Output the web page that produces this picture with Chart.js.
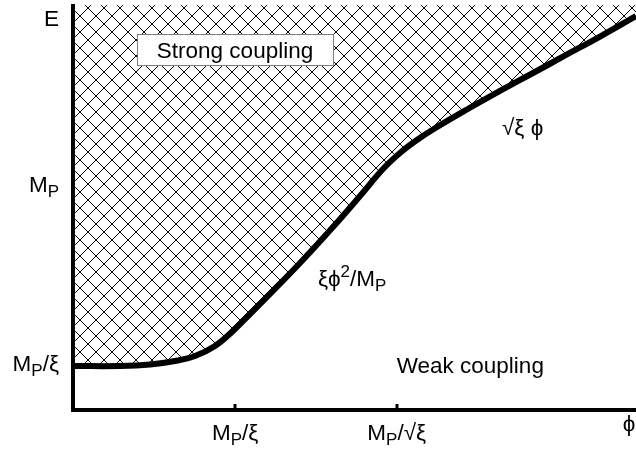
<!DOCTYPE html>
<html>
<head>
<meta charset="utf-8">
<script src="https://cdn.jsdelivr.net/npm/chart.js@4"></script>
<style>
  html, body { margin: 0; padding: 0; background: #fff; }
</style>
</head>
<body>
<canvas id="grafico" width="636" height="450"></canvas>
<script>
// Curva de frontera entre acoplamiento fuerte y débil (unidades arbitrarias 0-100)
const phiValues = [0, 8.35, 13.68, 18.12, 21.67, 25.22, 28.42, 31.44, 34.46, 40.32, 46.18, 50.98, 55.06, 58.08, 61.10, 63.94, 69.98, 75.84, 81.71, 87.74, 93.61, 100];
const energyValues = [10.86, 10.86, 11.23, 12.10, 13.33, 15.80, 19.51, 23.70, 27.90, 36.30, 45.19, 52.84, 59.51, 63.46, 66.67, 69.26, 74.20, 78.77, 83.21, 87.78, 92.22, 97.28];

// Marcas de los ejes ( _{..} = subíndice, ^{..} = superíndice )
const xTickValues = [28.8, 57.5];
const xTickLabels = ['M_{P}/ξ', 'M_{P}/√ξ'];
const yTickValues = [10.9, 55.1, 96.0];
const yTickLabels = ['M_{P}/ξ', 'M_{P}', 'E'];

const FONT = '"Liberation Sans", Arial, sans-serif';
const SIZE = 22.5;

// patrón de rayado cruzado (píxeles nítidos)
function crossHatch() {
  const n = 16;
  const c = document.createElement('canvas');
  c.width = n; c.height = n;
  const g = c.getContext('2d');
  g.fillStyle = '#000';
  for (let i = 0; i < n; i++) {
    g.fillRect(i, i, 1, 1);
    g.fillRect(n - 1 - i, i, 1, 1);
  }
  return g.createPattern(c, 'repeat');
}

// divide 'M_{P}/ξ' en trozos normales / sub / sup
function parseRich(str) {
  const parts = [];
  const re = /([_^])\{([^}]*)\}/g;
  let last = 0, m;
  while ((m = re.exec(str)) !== null) {
    if (m.index > last) parts.push({ t: str.slice(last, m.index), k: 'n' });
    parts.push({ t: m[2], k: m[1] === '_' ? 'sub' : 'sup' });
    last = re.lastIndex;
  }
  if (last < str.length) parts.push({ t: str.slice(last), k: 'n' });
  return parts;
}

function drawRich(ctx, str, x, y, align, size) {
  const parts = parseRich(str);
  const small = Math.round(size * 0.75);
  let total = 0;
  parts.forEach(p => {
    ctx.font = (p.k === 'n' ? size : small) + 'px ' + FONT;
    p.w = ctx.measureText(p.t).width;
    total += p.w;
  });
  let cx = align === 'right' ? x - total : align === 'center' ? x - total / 2 : x;
  ctx.textAlign = 'left';
  ctx.textBaseline = 'alphabetic';
  parts.forEach(p => {
    ctx.font = (p.k === 'n' ? size : small) + 'px ' + FONT;
    let dy = 0;
    if (p.k === 'sub') dy = size * 0.22;
    if (p.k === 'sup') dy = -size * 0.4;
    ctx.fillText(p.t, cx, y + dy);
    cx += p.w;
  });
}

const ejesPlugin = {
  id: 'ejes',
  afterDraw(chart) {
    const ctx = chart.ctx;
    const area = chart.chartArea;
    const sx = chart.scales.x, sy = chart.scales.y;
    ctx.save();
    ctx.fillStyle = '#000';
    ctx.strokeStyle = '#000';
    ctx.lineCap = 'butt';

    // ejes
    ctx.lineWidth = 4;
    ctx.beginPath();
    ctx.moveTo(area.left, area.top - 1);
    ctx.lineTo(area.left, area.bottom + 2);
    ctx.moveTo(area.left - 2, area.bottom);
    ctx.lineTo(area.right, area.bottom);
    ctx.stroke();

    // marcas del eje x
    ctx.lineWidth = 3;
    xTickValues.forEach(v => {
      const px = Math.round(sx.getPixelForValue(v));
      ctx.beginPath();
      ctx.moveTo(px, area.bottom);
      ctx.lineTo(px, area.bottom - 6);
      ctx.stroke();
    });

    // etiquetas de los ejes
    xTickValues.forEach((v, i) => {
      drawRich(ctx, xTickLabels[i], sx.getPixelForValue(v), area.bottom + 30, 'center', SIZE);
    });
    yTickValues.forEach((v, i) => {
      drawRich(ctx, yTickLabels[i], area.left - 14, sy.getPixelForValue(v) + 5, 'right', SIZE);
    });
    ctx.font = SIZE + 'px ' + FONT;
    ctx.textAlign = 'center';
    ctx.fillText('ϕ', 629, area.bottom + 21);

    // etiquetas de la curva
    drawRich(ctx, 'ξϕ^{2}/M_{P}', sx.getPixelForValue(43.5), sy.getPixelForValue(30.5), 'left', SIZE);
    drawRich(ctx, '√ξ ϕ', sx.getPixelForValue(76.2), sy.getPixelForValue(67.9), 'left', SIZE);

    // cuadro "Strong coupling"
    const bx = Math.round(sx.getPixelForValue(11.4)), by = Math.round(sy.getPixelForValue(92.6)) - 1;
    ctx.fillStyle = '#fff';
    ctx.fillRect(bx, by, 196, 31);
    ctx.strokeStyle = '#808080';
    ctx.lineWidth = 1;
    ctx.strokeRect(bx + 0.5, by + 0.5, 196, 31);
    ctx.fillStyle = '#000';
    ctx.font = SIZE + 'px ' + FONT;
    ctx.textAlign = 'center';
    ctx.textBaseline = 'alphabetic';
    ctx.fillText('Strong coupling', bx + 98, by + 24);

    ctx.textAlign = 'left';
    ctx.fillText('Weak coupling', sx.getPixelForValue(57.5), sy.getPixelForValue(9.2));
    ctx.restore();
  }
};

document.addEventListener('DOMContentLoaded', () => {
  const ctx = document.getElementById('grafico').getContext('2d');
  new Chart(ctx, {
    type: 'line',
    data: {
      labels: phiValues,
      datasets: [{
        data: phiValues.map((x, i) => ({ x: x, y: energyValues[i] })),
        borderColor: '#000',
        borderWidth: 6,
        backgroundColor: crossHatch(),
        fill: 'end',
        pointRadius: 0,
        tension: 0.4,
        clip: false
      }]
    },
    options: {
      responsive: false,
      animation: false,
      layout: { padding: { left: 73, right: 0, top: 5, bottom: 40 } },
      plugins: { legend: { display: false }, tooltip: { enabled: false } },
      scales: {
        x: { type: 'linear', min: 0, max: 100, display: false },
        y: { type: 'linear', min: 0, max: 100, display: false }
      }
    },
    plugins: [ejesPlugin]
  });
});
</script>
</body>
</html>
